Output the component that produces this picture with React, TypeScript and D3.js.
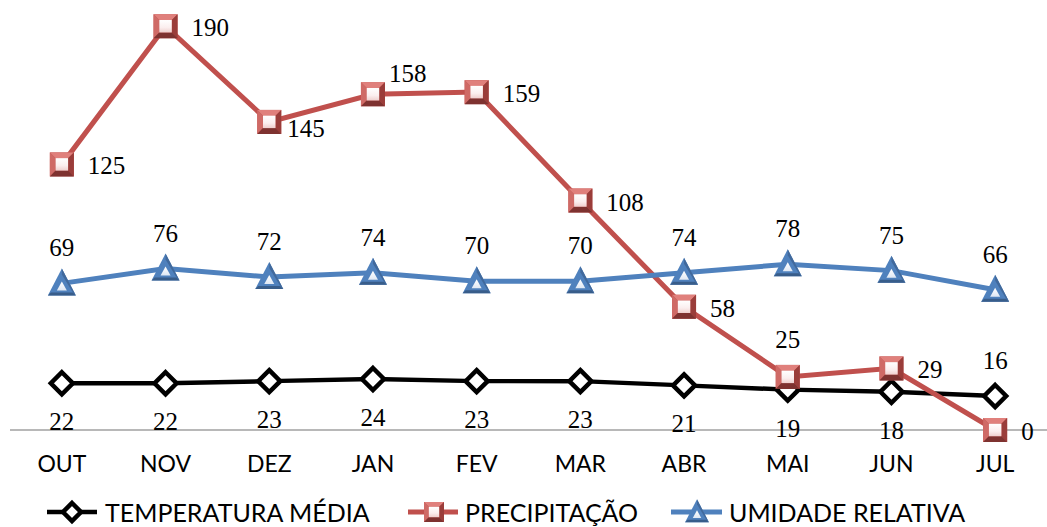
import React from "react";
import * as d3 from "d3";

// Monthly climate series (OUT → JUL)
const months = ["OUT", "NOV", "DEZ", "JAN", "FEV", "MAR", "ABR", "MAI", "JUN", "JUL"];
const temperatura = [22, 22, 23, 24, 23, 23, 21, 19, 18, 16];
const precipitacao = [125, 190, 145, 158, 159, 108, 58, 25, 29, 0];
const umidade = [69, 76, 72, 74, 70, 70, 74, 78, 75, 66];

// Data label placement per point
const tempLabelPos = ["below", "below", "below", "below", "below", "below", "below", "below", "below", "above"];
const precLabelPos = ["right", "right", "nearRight", "aboveRight", "right", "right", "right", "above", "right", "right"];

const W = 1047;
const H = 527;

const RED = "#C0504D";
const BLUE = "#4F81BD";

const serif = "'Liberation Serif', 'Times New Roman', serif";
const sans = "Lato, 'Noto Sans', sans-serif";

function Square({ x, y, s = 12 }: { x: number; y: number; s?: number }) {
  const i = s * 0.52;
  return (
    <g transform={`translate(${x},${y})`}>
      <rect x={-s} y={-s} width={2 * s} height={2 * s} fill={RED} />
      <polygon points={`${-s},${-s} ${s},${-s} ${i},${-i} ${-i},${-i}`} fill="#e0807c" />
      <polygon points={`${-s},${-s} ${-i},${-i} ${-i},${i} ${-s},${s}`} fill="#cf6a66" />
      <polygon points={`${s},${-s} ${s},${s} ${i},${i} ${i},${-i}`} fill="#9a3d3a" />
      <polygon points={`${-s},${s} ${s},${s} ${i},${i} ${-i},${i}`} fill="#7e3230" />
      <rect x={-i} y={-i} width={2 * i} height={2 * i} fill="url(#sqInner)" />
    </g>
  );
}

function Triangle({ x, y, s = 1 }: { x: number; y: number; s?: number }) {
  const top = -15 * s, base = 12 * s, half = 14 * s;
  return (
    <g transform={`translate(${x},${y})`}>
      <polygon points={`0,${top} ${half},${base} ${-half},${base}`} fill={BLUE} />
      <polygon points={`${half},${base} ${-half},${base} ${-half + 3 * s},${base - 3 * s} ${half - 3 * s},${base - 3 * s}`} fill="#385d8a" />
      <polygon points={`0,${top} ${half},${base} ${half - 3 * s},${base - 3 * s} 0,${top + 6 * s}`} fill="#41699c" />
      <polygon points={`0,${-2 * s} ${5 * s},${7 * s} ${-5 * s},${7 * s}`} fill="url(#triInner)" />
    </g>
  );
}

function Diamond({ x, y, s = 11 }: { x: number; y: number; s?: number }) {
  return (
    <polygon
      transform={`translate(${x},${y})`}
      points={`0,${-s} ${s},0 0,${s} ${-s},0`}
      fill="white"
      stroke="black"
      strokeWidth={4.5}
      strokeLinejoin="miter"
    />
  );
}

export default function App() {
  const x = d3.scaleBand<string>().domain(months).range([10, 1047]);
  const cx = (m: string) => (x(m) ?? 0) + x.bandwidth() / 2;
  const y = d3.scaleLinear().domain([0, 200]).range([430, 5]);

  const line = d3
    .line<number>()
    .x((_, i) => cx(months[i]))
    .y((d) => y(d));

  const labelStyle = { fontFamily: serif, fontSize: 25, fill: "black" } as const;

  return (
    <svg
      width={W}
      height={H}
      style={{ position: "absolute", left: 0, top: 0, background: "white" }}
    >
      <defs>
        <linearGradient id="sqInner" x1="0" y1="0" x2="0" y2="1">
          <stop offset="0" stopColor="#ffffff" />
          <stop offset="0.6" stopColor="#fbeeee" />
          <stop offset="1" stopColor="#efcfce" />
        </linearGradient>
        <linearGradient id="triInner" x1="0" y1="0" x2="0" y2="1">
          <stop offset="0" stopColor="#ffffff" />
          <stop offset="1" stopColor="#dfe8f4" />
        </linearGradient>
      </defs>

      {/* category axis */}
      <line x1={10} x2={1047} y1={y(0)} y2={y(0)} stroke="#a0a0a0" strokeWidth={1.5} />
      {months.map((m) => (
        <text key={m} x={cx(m)} y={472} textAnchor="middle" fontFamily={sans} fontSize={23} fill="black">
          {m}
        </text>
      ))}

      {/* TEMPERATURA MÉDIA */}
      <path d={line(temperatura) ?? ""} fill="none" stroke="black" strokeWidth={4.5} />
      {temperatura.map((v, i) => (
        <Diamond key={i} x={cx(months[i])} y={y(v)} />
      ))}

      {/* PRECIPITAÇÃO */}
      <path d={line(precipitacao) ?? ""} fill="none" stroke={RED} strokeWidth={5} />
      {precipitacao.map((v, i) => (
        <Square key={i} x={cx(months[i])} y={y(v)} />
      ))}

      {/* UMIDADE RELATIVA */}
      <path d={line(umidade) ?? ""} fill="none" stroke={BLUE} strokeWidth={5} />
      {umidade.map((v, i) => (
        <Triangle key={i} x={cx(months[i])} y={y(v)} />
      ))}

      {/* data labels */}
      {temperatura.map((v, i) => {
        const px = cx(months[i]);
        const py = y(v);
        const below = tempLabelPos[i] === "below";
        return (
          <text key={`t${i}`} x={px} y={below ? py + 47 : py - 27} textAnchor="middle" {...labelStyle}>
            {v}
          </text>
        );
      })}
      {umidade.map((v, i) => (
        <text key={`u${i}`} x={cx(months[i])} y={y(v) - 27} textAnchor="middle" {...labelStyle}>
          {v}
        </text>
      ))}
      {precipitacao.map((v, i) => {
        const px = cx(months[i]);
        const py = y(v);
        const pos = precLabelPos[i];
        let tx = px + 26, ty = py + 10, anchor = "start";
        if (pos === "nearRight") { tx = px + 18; ty = py + 15; }
        else if (pos === "aboveRight") { tx = px + 16; ty = py - 12; }
        else if (pos === "above") { tx = px; ty = py - 29; anchor = "middle"; }
        return (
          <text key={`p${i}`} x={tx} y={ty} textAnchor={anchor} {...labelStyle}>
            {v}
          </text>
        );
      })}

      {/* legend */}
      <g>
        <line x1={47} x2={97} y1={512} y2={512} stroke="black" strokeWidth={4.5} />
        <Diamond x={72} y={512} s={9} />
        <text x={105} y={522} fontFamily={sans} fontSize={25} fill="black">TEMPERATURA MÉDIA</text>

        <line x1={408} x2={458} y1={512} y2={512} stroke={RED} strokeWidth={5} />
        <Square x={434} y={512} s={10} />
        <text x={465} y={522} fontFamily={sans} fontSize={25} fill="black">PRECIPITAÇÃO</text>

        <line x1={671} x2={722} y1={512} y2={512} stroke={BLUE} strokeWidth={5} />
        <Triangle x={697} y={512} s={0.85} />
        <text x={729} y={522} fontFamily={sans} fontSize={25} fill="black">UMIDADE RELATIVA</text>
      </g>
    </svg>
  );
}
